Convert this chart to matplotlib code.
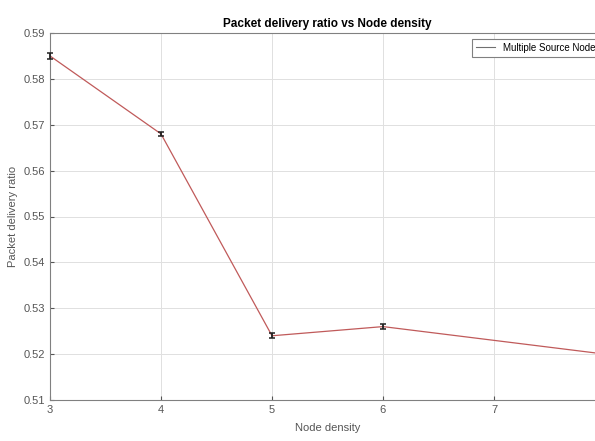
import numpy as np
import matplotlib.pyplot as plt
from matplotlib.lines import Line2D

plt.rcParams['font.family'] = ['Liberation Sans', 'DejaVu Sans']

node_density = [3, 4, 5, 6, 8]
pdr = [0.585, 0.568, 0.524, 0.526, 0.520]
pdr_err = [0.0006, 0.0005, 0.0005, 0.0006, 0.0005]

fig = plt.figure(figsize=(5.95, 4.41), dpi=100)
# axes run a little past the right edge, like the cropped original
ax = fig.add_axes([50/595, 41/441, 555/595, 367/441])

eb = ax.errorbar(node_density, pdr, yerr=pdr_err, color='#c05a5a', lw=0.9,
                 ecolor='#202020', elinewidth=1.3, capsize=2, capthick=1.1)
for a in eb.lines[1] + eb.lines[2]:
    a.set_clip_on(False)
    a.set_zorder(5)
for a in eb.lines[2]:
    a.set_clip_on(False)
    a.set_zorder(5)

ax.set_xlim(3, 8)
ax.set_ylim(0.51, 0.59)
ax.set_xticks([3, 4, 5, 6, 7, 8])
ax.set_xticklabels(['3', '4', '5', '6', '7', ''])
ax.set_yticks(np.arange(0.51, 0.5901, 0.01))
ax.set_yticklabels(['0.51', '0.52', '0.53', '0.54', '0.55', '0.56', '0.57', '0.58', '0.59'])

ax.grid(True, color='#e0e0e0', lw=0.7)
ax.tick_params(direction='in', labelsize=8, colors='#555555', length=3)
for s in ax.spines.values():
    s.set_color('#808080')

ax.set_title('Packet delivery ratio vs Node density', fontsize=8.5,
             fontweight='bold', pad=4)
ax.set_xlabel('Node density', fontsize=8, color='#555555', labelpad=6)
ax.set_ylabel('Packet delivery ratio', fontsize=8, color='#555555', labelpad=4)

handle = Line2D([], [], color='#707070', lw=0.8)
leg = ax.legend([handle], ['Multiple Source Node'], loc='upper right', fontsize=7,
                fancybox=False, handlelength=2, borderaxespad=0.6, framealpha=1)
leg.get_frame().set_edgecolor('#808080')
leg.get_frame().set_linewidth(0.8)

plt.savefig('out.png', dpi=100)
